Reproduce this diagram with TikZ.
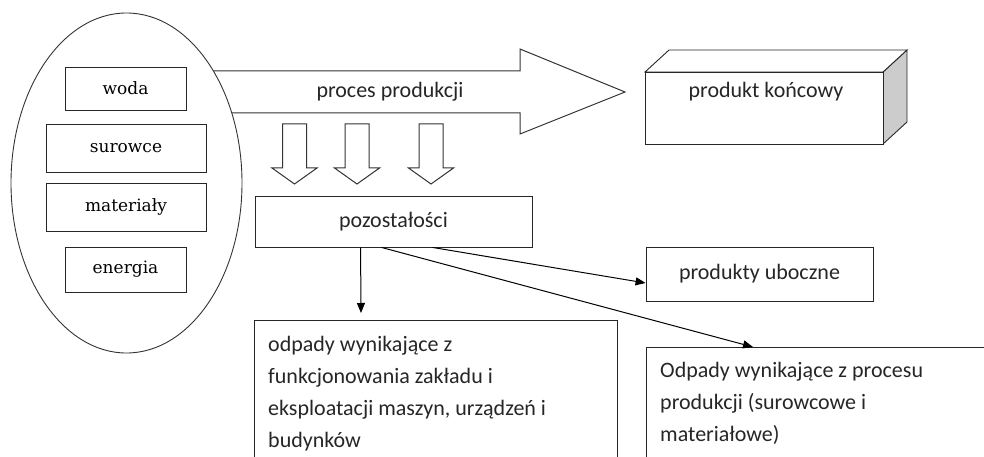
\documentclass[tikz,border=0pt]{standalone}
\usepackage{fontspec}
\setmainfont{Carlito}
\newfontfamily\serifbox{DejaVu Serif}
\usetikzlibrary{shapes.geometric, arrows.meta, calc}

\begin{document}
\begin{tikzpicture}[x=1pt, y=-1pt,
  inbox/.style={draw=black!85, line width=0.9pt, font=\serifbox\fontsize{17}{19}\selectfont, text=black, inner sep=0pt},
  box/.style={draw=black!85, line width=0.9pt, inner sep=0pt},
  txt/.style={font=\fontsize{22}{32}\selectfont, text=black!85, inner sep=0pt},
  conn/.style={draw=black, line width=1pt, -{Triangle[length=10pt,width=8pt]}},
  blockarrow/.style={draw=black!80, line width=1pt, fill=white, line join=miter},
]
\useasboundingbox (0,0) rectangle (984,457);
\clip (0,0) rectangle (984,457);

% big process arrow
\draw[blockarrow] (150,71) -- (520,71) -- (520,49) -- (625,92) -- (520,134) -- (520,113) -- (150,113) -- cycle;
\node[txt] (proc) at (390,92) {proces produkcji};

% oval with inputs
\node[ellipse, draw=black!80, line width=0.9pt, fill=white, minimum width=231pt, minimum height=340pt, inner sep=0pt] (oval) at (126.5,183) {};
\node[inbox, minimum width=121pt, minimum height=43pt] (woda) at (125.5,88.5) {woda};
\node[inbox, minimum width=160pt, minimum height=48pt] (surowce) at (126,148) {surowce};
\node[inbox, minimum width=160pt, minimum height=48pt] (materialy) at (126,207) {materiały};
\node[inbox, minimum width=121pt, minimum height=45pt] (energia) at (125.5,269.5) {energia};

% small block arrows
\foreach \cx in {294.5, 357, 431} {
  \draw[blockarrow] ({\cx-12},124) -- ({\cx+12},124) -- ({\cx+12},168) -- ({\cx+22.5},168) -- (\cx,184) -- ({\cx-22.5},168) -- ({\cx-12},168) -- cycle;
}

% final product (3D box)
\draw[draw=black!85, line width=0.9pt, fill=gray!40, line join=miter] (883,72) -- (907,50) -- (907,122) -- (883,144) -- cycle;
\draw[draw=black!85, line width=0.9pt, fill=white, line join=miter] (645,72) -- (669,50) -- (907,50) -- (883,72) -- cycle;
\node[box, fill=white, minimum width=238pt, minimum height=72pt, anchor=north west] (pk) at (645,72) {};
\node[txt] (pkt) at (766,92) {produkt końcowy};

% residues
\node[box, txt, draw=black!85, minimum width=277pt, minimum height=51pt] (poz) at (393.5,221.5) {pozostałości};
\node[box, txt, draw=black!85, minimum width=227pt, minimum height=54pt] (pu) at (759.5,274) {produkty uboczne};

\node[box, minimum width=363pt, minimum height=170pt, anchor=north west] (odp1) at (254,320) {};
\node[txt, anchor=north west, align=left] (odp1t) at (268,336) {odpady wynikające z\\funkcjonowania zakładu i\\eksploatacji maszyn, urządzeń i\\budynków};

\node[box, minimum width=360pt, minimum height=150pt, anchor=north west] (odp2) at (646,347) {};
\node[txt, anchor=north west, align=left] (odp2t) at (660,362) {Odpady wynikające z procesu\\produkcji (surowcowe i\\materiałowe)};

% connectors
\draw[conn] ([xshift=106pt]poz.south west) -- ([xshift=107pt,yshift=7pt]odp1.north west);
\draw[conn] ([xshift=178pt]poz.south west) -- ([yshift=-9pt]pu.west);
\draw[conn] ([xshift=127pt]poz.south west) -- ([xshift=107pt]odp2.north west);
\end{tikzpicture}
\end{document}
